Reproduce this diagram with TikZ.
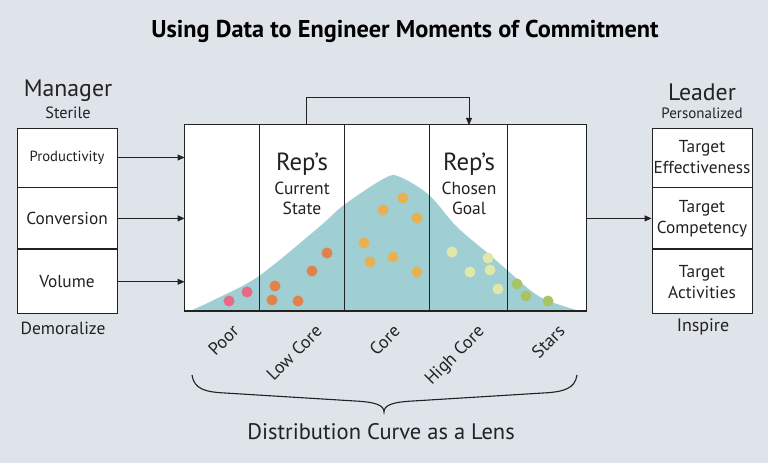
\documentclass[tikz,border=0pt]{standalone}
\usepackage{fontspec}
\setmainfont{PT Sans}
\usepackage{xcolor}
\usepackage{tikz}
\usetikzlibrary{positioning, arrows.meta}

\definecolor{bgcol}{HTML}{DFE3EA}
\definecolor{curvecol}{HTML}{9FCED3}
\definecolor{inkcol}{HTML}{222222}
\definecolor{dotpink}{HTML}{E66A83}
\definecolor{dotcoral}{HTML}{E08249}
\definecolor{dotgold}{HTML}{E9B052}
\definecolor{dotpale}{HTML}{E0E8A9}
\definecolor{dotgreen}{HTML}{A9C462}

\begin{document}
\begin{tikzpicture}[x=1pt, y=1pt, line width=0.9pt, inkcol,
    >={Triangle[length=7pt,width=6pt]},
    cell/.style={draw, fill=white, minimum width=100pt, inner sep=0pt, align=center, font=\fontsize{17.3}{21}\selectfont},
    head/.style={font=\fontsize{23.8}{26}\selectfont},
    sub/.style={font=\fontsize{16.3}{19}\selectfont},
    rep/.style={font=\fontsize{24.8}{27}\selectfont},
    seg/.style={font=\fontsize{17.8}{20}\selectfont, rotate=45, anchor=north east, inner sep=0pt}]
            % background
            \fill[bgcol] (0,0) rectangle (768,463);
            \useasboundingbox (0,0) rectangle (768,463);

            % title
            \node[font=\fontsize{24.3}{27}\selectfont\bfseries, text=black] (title) at (405,432) {Using Data to Engineer Moments of Commitment};

            % manager side
            \node[head] (mgr) at (68,372) {Manager};
            \node[sub] (sterile) at (68,350) {Sterile};
            \node[cell, minimum height=59pt, font=\fontsize{14.7}{17}\selectfont] (prod) at (67,305.5) {Productivity};
            \node[cell, minimum height=61pt, below=0pt of prod] (conv) {Conversion};
            \node[cell, minimum height=64pt, below=0pt of conv] (vol) {Volume};
            \node[sub, font=\fontsize{17.5}{20}\selectfont] (demor) at (63,135) {Demoralize};

            % leader side
            \node[head] (lead) at (702,371) {Leader};
            \node[sub, font=\fontsize{15}{18}\selectfont] (pers) at (702,350) {Personalized};
            \node[cell, minimum height=59pt] (teff) at (702,305.5) {Target\\Effectiveness};
            \node[cell, minimum height=61pt, below=0pt of teff] (tcomp) {Target\\Competency};
            \node[cell, minimum height=64pt, below=0pt of tcomp] (tact) {Target\\Activities};
            \node[sub, font=\fontsize{18}{20}\selectfont] (insp) at (703,136) {Inspire};

            % main box with the curve
            \node[fill=white, minimum width=401pt, minimum height=186pt, inner sep=0pt] (main) at (385.5,245) {};
            \fill[curvecol] plot[smooth, tension=0.55] coordinates {(190,152) (218,165) (259,187) (318,235) (344,258) (385,285) (400,286) (429,268) (457,236) (490,208) (507,193) (540,166) (580,152)} -- cycle;

            % dots
            \foreach \x/\y/\c in {229/162/dotpink, 247/171/dotpink,
                275/177/dotcoral, 272/163/dotcoral, 298/162/dotcoral, 312/192/dotcoral, 327/210/dotcoral,
                364/220/dotgold, 370/201/dotgold, 383/253/dotgold, 393/206/dotgold, 403/265/dotgold, 417/245/dotgold, 417/191/dotgold,
                452/211/dotpale, 470/191/dotpale, 488/205/dotpale, 490/193/dotpale, 498/174/dotpale,
                517/179/dotgreen, 526/167/dotgreen, 548/162/dotgreen} {
              \fill[\c] (\x,\y) circle (5.5);
            }

            % dividers and outline
            \foreach \x in {259,344,429,507} {
              \draw (\x,152) -- (\x,338);
            }
            \draw (main.south west) rectangle (main.north east);
            \draw[line width=2pt] (main.south west) -- (main.south east);

            % rep labels
            \node[rep] (repnow) at (302,299) {Rep’s};
            \node[sub, align=center, below=-1pt of repnow, font=\fontsize{17.5}{20.5}\selectfont] (repnowtxt) {Current\\State};
            \node[rep] (repgoal) at (469,299) {Rep’s};
            \node[sub, align=center, below=-1pt of repgoal, font=\fontsize{17.5}{20.5}\selectfont] (repgoaltxt) {Chosen\\Goal};

            % arrows in and out
            \draw[->] (prod.east) -- (prod.east -| main.west);
            \draw[->] (conv.east) -- (conv.east -| main.west);
            \draw[->] (vol.east) -- (vol.east -| main.west);
            \draw[->] (main.east |- tcomp.west) -- (tcomp.west);

            % jump from current state to goal
            \coordinate (cur) at (306,338);
            \coordinate (goal) at (469,338);
            \draw[->] (cur) -- (306,366) -| (goal);

            % segment labels
            \node[seg] (poor) at (231,140) {Poor};
            \node[seg] (lowcore) at (314,140) {Low Core};
            \node[seg] (core) at (392,140) {Core};
            \node[seg] (highcore) at (476,140) {High Core};
            \node[seg] (stars) at (557,140) {Stars};

            % brace
            \draw[line width=1.1pt] (192,88) .. controls (194,74) and (205,71) .. (225,70) -- (355,62) .. controls (375,61) and (384,58) .. (384,51)
              .. controls (384,58) and (393,61) .. (413,62) -- (543,70) .. controls (563,71) and (575,74) .. (577,88);
            \node[font=\fontsize{22.5}{25}\selectfont] (lens) at (381,31) {Distribution Curve as a Lens};
        \end{tikzpicture}
\end{document}
